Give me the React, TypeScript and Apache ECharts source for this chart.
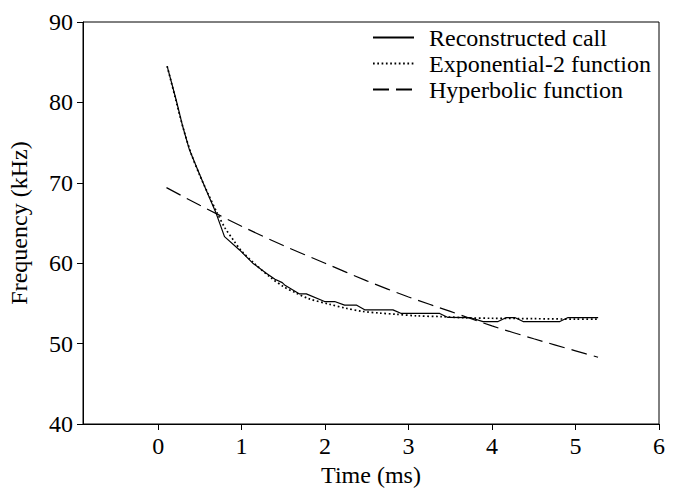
import React, { useEffect, useRef } from "react";
import * as echarts from "echarts";

// Reconstructed call (solid) : [time ms, frequency kHz]
const reconstructedT = [0.108, 0.216, 0.295, 0.375, 0.475, 0.575, 0.695, 0.795, 0.975, 1.134, 1.295, 1.40, 1.487, 1.515, 1.694, 1.775, 1.994, 2.114, 2.234, 2.374, 2.474, 2.813, 2.914, 3.373, 3.472, 3.733, 3.892, 4.072, 4.173, 4.272, 4.372, 4.812, 4.911, 5.271];
const reconstructedF = [84.5, 80.3, 77.0, 74.1, 71.6, 69.1, 66.2, 63.3, 61.65, 60.0, 58.76, 58.0, 57.58, 57.3, 56.18, 56.18, 55.23, 55.23, 54.79, 54.79, 54.2, 54.2, 53.75, 53.75, 53.25, 53.24, 52.74, 52.74, 53.24, 53.24, 52.74, 52.74, 53.24, 53.24];

// Exponential-2 function (dotted)
const expT = [0.108, 0.2, 0.3, 0.4, 0.5, 0.6, 0.7, 0.8, 0.9, 1.0, 1.15, 1.35, 1.5, 1.65, 1.8, 2.05, 2.25, 2.45, 2.65, 2.85, 3.1, 3.4, 3.7, 4.0, 4.5, 5.0, 5.27];
const expF = [84.5, 80.8, 76.8, 73.5, 70.9, 68.6, 66.4, 64.4, 62.9, 61.5, 60.0, 58.2, 57.1, 56.3, 55.6, 54.9, 54.4, 54.0, 53.8, 53.65, 53.45, 53.35, 53.2, 53.15, 53.1, 53.05, 53.05];

// Hyperbolic function (dashed)
const hypT = [0.1, 0.5, 1.0, 1.5, 2.0, 2.5, 3.0, 3.5, 4.0, 4.5, 5.0, 5.27];
const hypF = [69.4, 67.2, 64.6, 62.2, 60.0, 57.8, 55.8, 54.0, 52.2, 50.6, 49.1, 48.3];

const xTickValues = [0, 1, 2, 3, 4, 5, 6];
const yTickValues = [40, 50, 60, 70, 80, 90];

const seriesNames = ["Reconstructed call", "Exponential-2 function", "Hyperbolic function"];

const zip = (a: number[], b: number[]) => a.map((v, i) => [v, b[i]]);

const FONT = "Liberation Serif";

export default function App() {
  const ref = useRef<HTMLDivElement>(null);
  useEffect(() => {
    if (!ref.current) return;
    const chart = echarts.init(ref.current, null, { renderer: "svg" });
    const axisLine = { show: true, onZero: false, lineStyle: { color: "#000", width: 1 } };
    const tick = { show: true, length: 6, inside: false, lineStyle: { color: "#000" } };
    const label = { color: "#000", fontSize: 24, fontFamily: FONT };
    chart.setOption({
      animation: false,
      backgroundColor: "#fff",
      textStyle: { fontFamily: FONT },
      grid: {
        left: 83, right: 22, top: 22, bottom: 64,
        containLabel: false, outerBoundsMode: "none",
        show: true, borderColor: "#000", borderWidth: 1,
      },
      legend: {
        data: seriesNames,
        orient: "vertical",
        left: 367,
        top: 20,
        itemWidth: 41,
        itemHeight: 14,
        itemGap: 1,
        itemStyle: { opacity: 0 },
        textStyle: { color: "#000", fontSize: 24, fontFamily: FONT, padding: [0, 0, 0, 10], lineHeight: 25 },
      },
      xAxis: {
        type: "value",
        min: -0.9,
        max: 6,
        name: "Time (ms)",
        nameLocation: "middle",
        nameGap: 34,
        nameTextStyle: { color: "#000", fontSize: 24, fontFamily: FONT, lineHeight: 24 },
        axisLine,
        splitLine: { show: false },
        axisTick: { ...tick, customValues: xTickValues },
        axisLabel: { ...label, margin: 10, customValues: xTickValues },
      },
      yAxis: {
        type: "value",
        min: 40,
        max: 90,
        interval: 10,
        name: "Frequency (kHz)",
        nameLocation: "middle",
        nameGap: 52,
        nameTextStyle: { color: "#000", fontSize: 24, fontFamily: FONT },
        axisLine,
        splitLine: { show: false },
        axisTick: { ...tick, customValues: yTickValues },
        axisLabel: { ...label, margin: 10, customValues: yTickValues },
      },
      series: [
        {
          name: seriesNames[0],
          type: "line",
          data: zip(reconstructedT, reconstructedF),
          showSymbol: false,
          symbol: "none",
          lineStyle: { color: "#000", width: 1.2, type: "solid" },
          itemStyle: { color: "#000" },
        },
        {
          name: seriesNames[1],
          type: "line",
          data: zip(expT, expF),
          showSymbol: false,
          symbol: "none",
          smooth: 0.3,
          lineStyle: { color: "#000", width: 1.7, type: [1.7, 2.6] },
          itemStyle: { color: "#000" },
        },
        {
          name: seriesNames[2],
          type: "line",
          data: zip(hypT, hypF),
          showSymbol: false,
          symbol: "none",
          smooth: 0.3,
          lineStyle: { color: "#000", width: 1.2, type: [16, 7] },
          itemStyle: { color: "#000" },
        },
      ],
    });
    return () => chart.dispose();
  }, []);
  return <div ref={ref} style={{ position: "absolute", left: 0, top: 0, width: 681, height: 488 }} />;
}
